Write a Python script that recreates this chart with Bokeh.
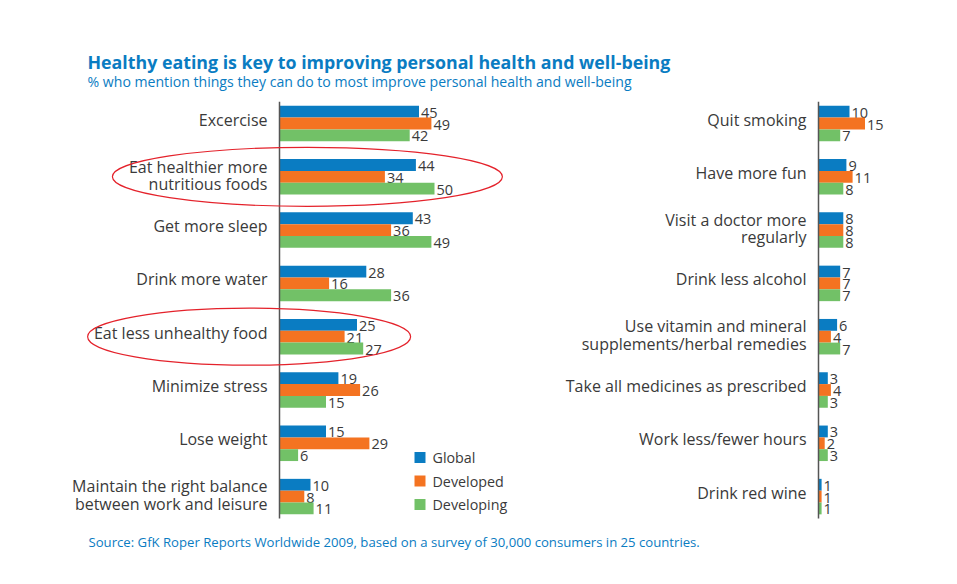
from bokeh.plotting import figure
from bokeh.models import Range1d, ColumnDataSource, Label
from bokeh.core.properties import value
from bokeh.embed import file_html
from bokeh.resources import INLINE

# ---------------- data ----------------
left_cats = ["Excercise", "Eat healthier more\nnutritious foods", "Get more sleep",
             "Drink more water", "Eat less unhealthy food", "Minimize stress",
             "Lose weight", "Maintain the right balance\nbetween work and leisure"]
left_global = [45, 44, 43, 28, 25, 19, 15, 10]
left_developed = [49, 34, 36, 16, 21, 26, 29, 8]
left_developing = [42, 50, 49, 36, 27, 15, 6, 11]

right_cats = ["Quit smoking", "Have more fun", "Visit a doctor more\nregularly",
              "Drink less alcohol", "Use vitamin and mineral\nsupplements/herbal remedies",
              "Take all medicines as prescribed", "Work less/fewer hours", "Drink red wine"]
right_global = [10, 9, 8, 7, 6, 3, 3, 1]
right_developed = [15, 11, 8, 7, 4, 4, 2, 1]
right_developing = [7, 8, 8, 7, 7, 3, 3, 1]

series = ["Global", "Developed", "Developing"]
colors = ["#0a7cc2", "#f47321", "#72c167"]
highlighted = ["Eat healthier more\nnutritious foods", "Eat less unhealthy food"]

title = "Healthy eating is key to improving personal health and well-being"
subtitle = "% who mention things they can do to most improve personal health and well-being"
source = "Source: GfK Roper Reports Worldwide 2009, based on a survey of 30,000 consumers in 25 countries."

# ---------------- layout constants ----------------
W, H = 957, 584
PX_PER_UNIT = 3.1
LEFT_ZERO = 279
RIGHT_ZERO = 818
ROW0 = 123.0
ROW_STEP = 53.3
BAR_H = 0.222
FONT = "Open Sans"
TXT = "#3a3a3a"
BLUE = "#0a7cc2"

p = figure(width=W, height=H, x_axis_type=None, y_axis_type=None,
           x_range=Range1d(0, W), y_range=Range1d(H, 0),
           output_backend="svg", toolbar_location=None, min_border=0)
p.outline_line_color = None
p.background_fill_color = "white"
p.border_fill_color = "white"

p.extra_x_ranges = {
    "L": Range1d(-LEFT_ZERO / PX_PER_UNIT, (W - LEFT_ZERO) / PX_PER_UNIT),
    "R": Range1d(-RIGHT_ZERO / PX_PER_UNIT, (W - RIGHT_ZERO) / PX_PER_UNIT),
}
p.extra_y_ranges = {"G": Range1d((H - ROW0) / ROW_STEP, (0 - ROW0) / ROW_STEP)}


def panel(cats, vals_list, xr):
    n = len(cats)
    idx = list(range(n))
    for k, (vals, col) in enumerate(zip(vals_list, colors)):
        off = (k - 1) * BAR_H
        src = ColumnDataSource(dict(y=[i + off for i in idx], v=vals,
                                    t=[str(v) for v in vals]))
        p.hbar(y="y", left=0, right="v", height=BAR_H, source=src,
               fill_color=col, line_color=None,
               x_range_name=xr, y_range_name="G")
        p.text(x="v", y="y", text="t", source=src, x_offset=2, y_offset=1,
               text_baseline="middle", text_align="left",
               text_font=value(FONT), text_font_size="14.5px", text_color=TXT,
               x_range_name=xr, y_range_name="G")
    yoff = [-1.5 if "\n" in c else -4 for c in cats]
    csrc = ColumnDataSource(dict(x=[0] * n, y=idx, t=cats, yo=yoff))
    p.text(x="x", y="y", text="t", source=csrc, x_offset=-12, y_offset="yo",
           text_align="right", text_baseline="middle", text_line_height=0.8,
           text_font=value(FONT), text_font_size="16px", text_color=TXT,
           x_range_name=xr, y_range_name="G")
    p.segment(x0=0, x1=0, y0=-0.41, y1=n - 1 + 0.41, line_color="#555555",
              line_width=1.5, x_range_name=xr, y_range_name="G")


panel(left_cats, [left_global, left_developed, left_developing], "L")
panel(right_cats, [right_global, right_developed, right_developing], "R")

# highlight ellipses around two categories
ell_x = [9.0, -9.8]
ell_w = [390, 323]
ell_h = [59, 57]
ell_y = [left_cats.index(c) for c in highlighted]
p.ellipse(x=ell_x, y=ell_y, width=ell_w, height=ell_h,
          width_units="screen", height_units="screen",
          fill_color=None, line_color="#e4222b", line_width=1.2,
          x_range_name="L", y_range_name="G")

# legend
leg_y = [457, 480.5, 504]
p.rect(x=[419.5] * 3, y=leg_y, width=11, height=11,
       width_units="screen", height_units="screen",
       fill_color=colors, line_color=None)
p.text(x=[432] * 3, y=leg_y, text=series, text_baseline="middle",
       text_font=value(FONT), text_font_size="14.3px", text_color=TXT)

# titles
p.add_layout(Label(x=87, y=H - 61, x_units="screen", y_units="screen", text=title,
                   text_font=FONT, text_font_style="bold", text_font_size="17.8px",
                   text_color=BLUE, text_baseline="middle"))
p.add_layout(Label(x=87, y=H - 81, x_units="screen", y_units="screen", text=subtitle,
                   text_font=FONT, text_font_size="14.1px",
                   text_color=BLUE, text_baseline="middle"))
p.add_layout(Label(x=88, y=H - 541, x_units="screen", y_units="screen", text=source,
                   text_font=FONT, text_font_size="13.15px",
                   text_color=BLUE, text_baseline="middle"))

open("out.html", "w").write(file_html(p, INLINE))
